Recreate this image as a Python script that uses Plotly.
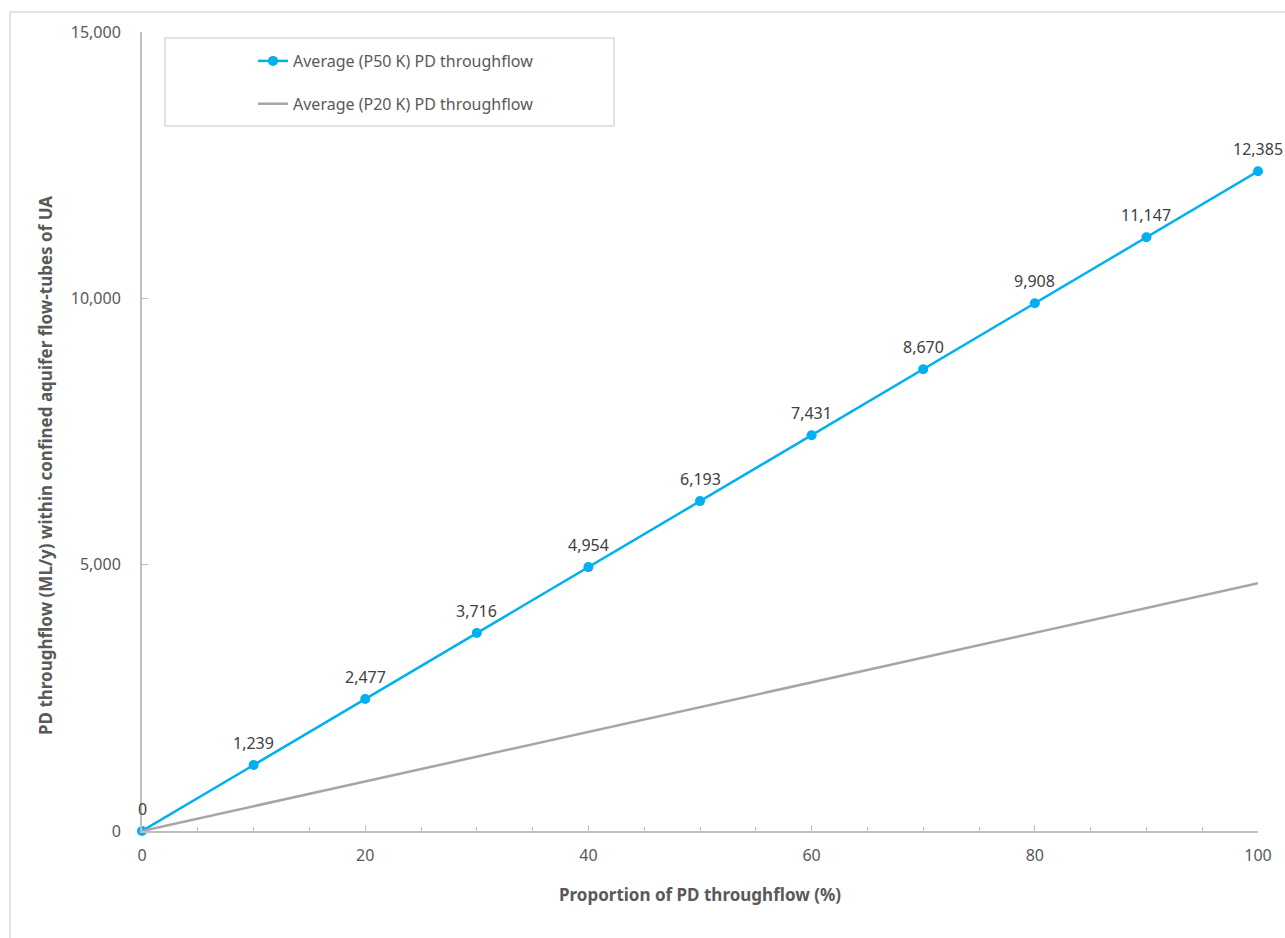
import plotly.graph_objects as go

proportion = [0, 10, 20, 30, 40, 50, 60, 70, 80, 90, 100]
p50_throughflow = [0, 1239, 2477, 3716, 4954, 6193, 7431, 8670, 9908, 11147, 12385]
p20_throughflow = [0, 465, 930, 1395, 1860, 2325, 2790, 3255, 3720, 4185, 4650]

series_names = ["Average (P50 K) PD throughflow", "Average (P20 K) PD throughflow"]
x_title = "Proportion of PD throughflow (%)"
y_title = "PD throughflow (ML/y) within confined aquifer flow-tubes of UA"

FONT = "Noto Sans"
TXT = "#595959"
AX = "#bfbfbf"

fig = go.Figure()
fig.add_trace(go.Scatter(
    x=proportion, y=p50_throughflow, name=series_names[0],
    mode="lines+markers",
    line=dict(color="#00b0f0", width=2.5),
    marker=dict(color="#00b0f0", size=10),
    cliponaxis=False, legendgroup="a",
))
fig.add_trace(go.Scatter(
    x=proportion, y=p20_throughflow, name=series_names[1],
    mode="lines",
    line=dict(color="#a6a6a6", width=2.5),
    cliponaxis=False, legendgroup="b",
))

# body margin removed via post_script, so figure starts at page origin
OFF = 0
W, H = 1285, 938
ml, mr, mt, mb = 142, 27, 32, 107
pw, ph = W - ml - mr, H - mt - mb

def px(x):
    return (x - OFF - ml) / pw

def py(y):
    return 1 - (y - OFF - mt) / ph

annotations = [
    dict(x=xv, y=yv, xref="x", yref="y", text=f"{yv:,}", showarrow=False,
         yshift=22, font=dict(family=FONT, size=16, color="#404040"))
    for xv, yv in zip(proportion, p50_throughflow)
]
annotations.append(dict(
    x=px(45), y=py(466), xref="paper", yref="paper", text=y_title, textangle=-90,
    showarrow=False, xanchor="center", yanchor="middle",
    font=dict(family=FONT, size=17, color=TXT, weight="bold"),
))

fig.update_layout(
    width=W, height=H,
    margin=dict(l=ml, r=mr, t=mt, b=mb),
    paper_bgcolor="white", plot_bgcolor="white",
    font=dict(family=FONT, size=16, color=TXT),
    showlegend=True,
    annotations=annotations,
    legend=dict(
        x=px(253), y=py(44), xanchor="left", yanchor="top",
        bgcolor="rgba(0,0,0,0)", borderwidth=0,
        font=dict(family=FONT, size=16, color=TXT),
        traceorder="grouped", tracegroupgap=19,
    ),
    xaxis=dict(
        range=[0, 100], dtick=20, tick0=0,
        showgrid=False, zeroline=False,
        showline=True, linecolor=AX, linewidth=2,
        ticks="inside", ticklen=6, tickcolor=AX, tickwidth=1,
        minor=dict(dtick=5, ticks="inside", ticklen=4, tickcolor=AX, showgrid=False),
        tickfont=dict(family=FONT, size=16, color=TXT),
        ticklabelstandoff=9,
        title=dict(text=x_title, font=dict(family=FONT, size=17, color=TXT, weight="bold"), standoff=24),
    ),
    yaxis=dict(
        range=[0, 15000], dtick=5000, tick0=0,
        showgrid=False, zeroline=False,
        showline=True, linecolor=AX, linewidth=2,
        ticks="inside", ticklen=6, tickcolor=AX, tickwidth=1,
        tickformat=",",
        tickfont=dict(family=FONT, size=16, color=TXT),
        ticklabelstandoff=16,
    ),
    shapes=[
        dict(type="rect", xref="paper", yref="paper",
             x0=px(10), x1=px(1300), y0=py(12), y1=py(960),
             line=dict(color="#d9d9d9", width=1.5), fillcolor="rgba(0,0,0,0)", layer="below"),
        dict(type="rect", xref="paper", yref="paper",
             x0=px(165), x1=px(614), y0=py(38), y1=py(126),
             line=dict(color="#d9d9d9", width=1.5), fillcolor="rgba(0,0,0,0)", layer="below"),
    ],
)

fig.write_html(
    "out.html",
    config={"displayModeBar": False},
    post_script="document.body.style.margin='0';document.body.style.overflow='hidden';",
)
